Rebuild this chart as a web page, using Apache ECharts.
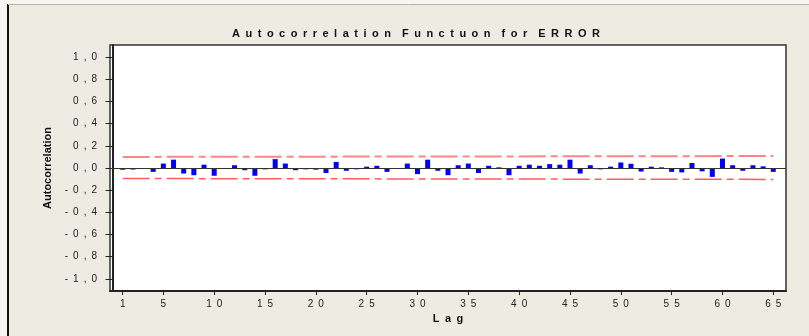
<!DOCTYPE html>
<html>
<head>
<meta charset="utf-8">
<script src="https://cdn.jsdelivr.net/npm/echarts@6/dist/echarts.min.js"></script>
<style>
  html, body { margin: 0; padding: 0; background: #eeebe3; }
  #chart { width: 809px; height: 336px; }
</style>
</head>
<body>
<div id="chart"></div>
<script>
// lag numbers and autocorrelation values
var lags = [1, 2, 3, 4, 5, 6, 7, 8, 9, 10, 11, 12, 13, 14, 15, 16, 17, 18, 19, 20,
  21, 22, 23, 24, 25, 26, 27, 28, 29, 30, 31, 32, 33, 34, 35, 36, 37, 38, 39, 40,
  41, 42, 43, 44, 45, 46, 47, 48, 49, 50, 51, 52, 53, 54, 55, 56, 57, 58, 59, 60,
  61, 62, 63, 64, 65];
var acf = [-0.016, -0.014, -0.008, -0.035, 0.040, 0.075, -0.050, -0.065, 0.030, -0.070,
  -0.008, 0.025, -0.020, -0.070, -0.012, 0.080, 0.040, -0.020, -0.012, -0.015,
  -0.045, 0.055, -0.025, -0.012, 0.012, 0.020, -0.035, -0.006, 0.040, -0.055,
  0.075, -0.025, -0.065, 0.025, 0.040, -0.045, 0.020, 0.006, -0.065, 0.020,
  0.030, 0.020, 0.035, 0.030, 0.075, -0.050, 0.025, -0.012, 0.012, 0.050,
  0.038, -0.032, 0.012, 0.006, -0.035, -0.040, 0.045, -0.030, -0.080, 0.085,
  0.025, -0.025, 0.025, 0.015, -0.035];
// confidence limits at first and last lag
var upperLimit = [0.100, 0.108];
var lowerLimit = [-0.095, -0.103];
var xTicks = [1, 5, 10, 15, 20, 25, 30, 35, 40, 45, 50, 55, 60, 65];
var yTicks = [-1, -0.8, -0.6, -0.4, -0.2, 0, 0.2, 0.4, 0.6, 0.8, 1];

var narrow = '"Liberation Sans Narrow", "Liberation Sans", Arial, sans-serif';
function spaced(s, gap) {
  return s.split('').join(gap);
}

var barData = lags.map(function (l, i) { return [l, acf[i]]; });
var first = lags[0], last = lags[lags.length - 1];

var myChart = echarts.init(document.getElementById('chart'));
var option = {
  backgroundColor: '#eeebe3',
  animation: false,
  title: {
    text: 'Autocorrelation Functuon for ERROR'.split(' ').map(function (w) {
      return spaced(w, '\u2002');
    }).join('\u2002\u2002'),
    left: 411,
    textAlign: 'center',
    top: 23,
    textStyle: { fontFamily: narrow, fontSize: 11, fontWeight: 'bold', color: '#111' }
  },
  graphic: [
    { type: 'rect', shape: { x: 0, y: 0, width: 8, height: 336 }, style: { fill: '#f6f5f2' } },
    { type: 'rect', shape: { x: 0, y: 0, width: 809, height: 4 }, style: { fill: '#f6f5f2' } },
    { type: 'line', shape: { x1: 8, y1: 4, x2: 8, y2: 336 }, style: { stroke: '#111', lineWidth: 2 } },
    { type: 'line', shape: { x1: 8, y1: 4.5, x2: 809, y2: 4.5 }, style: { stroke: '#b8b5ad', lineWidth: 1 } }
  ],
  grid: {
    left: 110, right: 23, top: 45, bottom: 45,
    show: true, backgroundColor: '#ffffff', borderColor: '#333', borderWidth: 1.5
  },
  xAxis: {
    type: 'value',
    min: -0.25,
    max: 66.25,
    name: spaced('Lag', '\u2002'),
    nameLocation: 'middle',
    nameGap: 21,
    nameTextStyle: { fontFamily: narrow, fontSize: 11, fontWeight: 'bold', color: '#111' },
    axisLine: { show: true, onZero: false, lineStyle: { color: '#222', width: 2 } },
    axisTick: { show: true, length: 4, customValues: xTicks, lineStyle: { color: '#222' } },
    axisLabel: {
      customValues: xTicks,
      margin: 8,
      fontFamily: narrow, fontSize: 10, color: '#222',
      formatter: function (v) { return spaced(String(v), '\u2002'); }
    },
    splitLine: { show: false }
  },
  yAxis: {
    type: 'value',
    min: -1.11,
    max: 1.11,
    name: 'Autocorrelation',
    nameLocation: 'middle',
    nameGap: 56,
    nameTextStyle: { fontFamily: '"Liberation Sans", Arial, sans-serif', fontSize: 11, fontWeight: 'bold', color: '#111' },
    axisLine: { show: true, lineStyle: { color: '#222', width: 2 } },
    axisTick: { show: true, length: 7, customValues: yTicks, lineStyle: { color: '#222' } },
    axisLabel: {
      customValues: yTicks,
      margin: 13,
      fontFamily: narrow, fontSize: 10, color: '#222',
      formatter: function (v) { return spaced(v.toFixed(1).replace('.', ','), '\u2002'); }
    },
    splitLine: { show: false }
  },
  series: [
    {
      type: 'bar',
      data: barData,
      barWidth: 5,
      itemStyle: { color: '#0000ff' },
      markLine: {
        silent: true,
        symbol: 'none',
        label: { show: false },
        lineStyle: { color: '#333', width: 1, type: 'solid' },
        data: [{ yAxis: 0 }]
      }
    },
    {
      type: 'line',
      data: [[first, upperLimit[0]], [last, upperLimit[1]]],
      symbol: 'none',
      lineStyle: { color: '#ff8585', width: 2, type: [27, 5, 7, 5] }
    },
    {
      type: 'line',
      data: [[first, lowerLimit[0]], [last, lowerLimit[1]]],
      symbol: 'none',
      lineStyle: { color: '#ff5c5c', width: 1.5, type: [27, 5, 7, 5] }
    }
  ]
};
myChart.setOption(option);
</script>
</body>
</html>
